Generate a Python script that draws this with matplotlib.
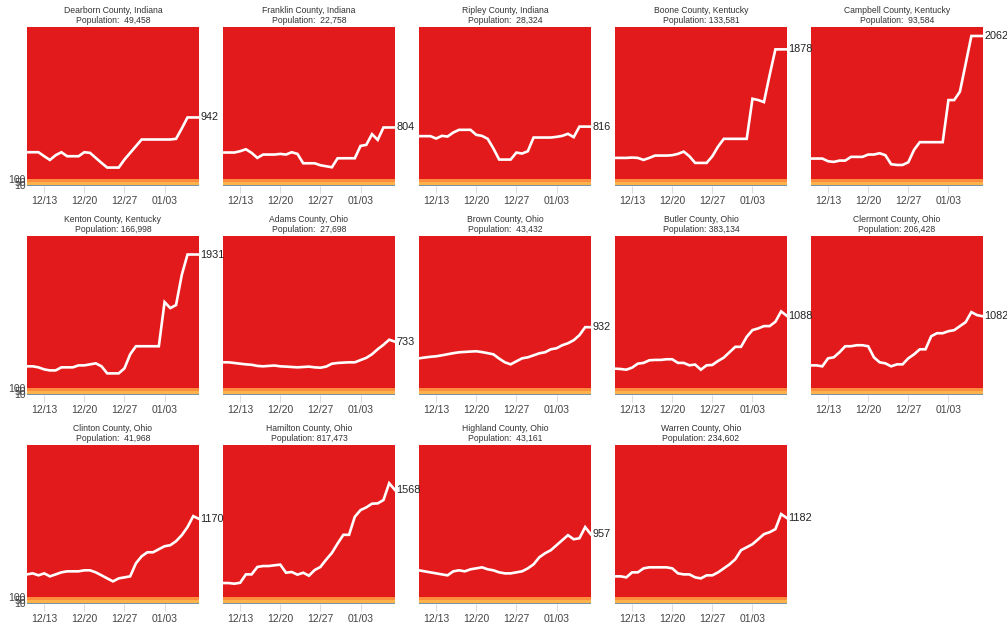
import numpy as np
import pandas as pd
import matplotlib
matplotlib.use('Agg')
import matplotlib.pyplot as plt
import matplotlib.dates as mdates

plt.rcParams['font.family'] = ['Liberation Sans', 'DejaVu Sans']

dates = pd.date_range('2020-12-10', '2021-01-09', freq='D')

counties = ['Dearborn County, Indiana', 'Franklin County, Indiana', 'Ripley County, Indiana',
            'Boone County, Kentucky', 'Campbell County, Kentucky', 'Kenton County, Kentucky',
            'Adams County, Ohio', 'Brown County, Ohio', 'Butler County, Ohio',
            'Clermont County, Ohio', 'Clinton County, Ohio', 'Hamilton County, Ohio',
            'Highland County, Ohio', 'Warren County, Ohio']

population = [49458, 22758, 28324, 133581, 93584, 166998, 27698, 43432,
              383134, 206428, 41968, 817473, 43161, 234602]

# cases per 100k, 7-day window
dearborn = [464, 464, 464, 409, 358, 423, 464, 409, 409, 409, 464, 455, 386, 317, 253, 253,
            253, 363, 455, 547, 639, 639, 639, 639, 639, 639, 648, 790, 942, 942, 942]
franklin = [460, 460, 460, 478, 505, 455, 386, 432, 432, 432, 441, 432, 464, 441, 312, 312,
            312, 285, 271, 257, 381, 381, 381, 381, 551, 565, 712, 634, 804, 804, 804]
ripley = [685, 685, 685, 652, 689, 680, 735, 772, 772, 772, 703, 689, 648, 515, 363, 363,
          363, 459, 446, 478, 666, 666, 666, 666, 675, 689, 717, 671, 816, 816, 816]
boone = [386, 386, 386, 391, 386, 358, 386, 418, 418, 418, 423, 441, 473, 409, 317, 317,
         317, 409, 542, 648, 648, 648, 648, 648, 1199, 1181, 1153, 1526, 1878, 1878, 1878]
campbell = [377, 377, 377, 340, 331, 349, 349, 400, 400, 400, 432, 432, 450, 423, 299, 289,
            289, 326, 496, 602, 602, 602, 602, 602, 1181, 1181, 1296, 1677, 2062, 2062, 2062]
kenton = [394, 394, 380, 352, 338, 338, 380, 380, 380, 407, 407, 421, 435, 394, 297, 297,
          297, 366, 559, 670, 670, 670, 670, 670, 1277, 1195, 1236, 1650, 1931, 1931, 1931]
adams = [449, 449, 440, 430, 421, 415, 400, 394, 400, 405, 394, 390, 385, 380, 385, 390,
         380, 375, 390, 430, 440, 445, 449, 449, 480, 510, 560, 630, 690, 760, 733]
brown = [504, 515, 525, 532, 545, 560, 575, 587, 592, 597, 601, 590, 575, 559, 500, 449,
         421, 463, 504, 518, 545, 573, 587, 628, 642, 684, 711, 753, 822, 932, 932]
butler = [362, 357, 348, 376, 431, 441, 477, 482, 482, 491, 491, 441, 441, 408, 418, 348,
          408, 413, 468, 514, 588, 662, 662, 800, 892, 915, 947, 947, 1007, 1149, 1088]
clermont = [407, 407, 394, 504, 518, 587, 670, 670, 684, 684, 670, 518, 449, 435, 394, 421,
            421, 504, 559, 628, 628, 808, 849, 849, 877, 891, 946, 1001, 1139, 1098, 1082]
clinton = [407, 421, 394, 421, 380, 407, 435, 449, 449, 449, 463, 463, 435, 394, 352, 311,
           352, 366, 380, 559, 656, 711, 711, 753, 794, 808, 863, 946, 1057, 1208, 1170]
hamilton = [288, 288, 279, 292, 407, 407, 509, 522, 522, 532, 541, 430, 440, 403, 430, 389,
            467, 509, 610, 702, 831, 951, 951, 1199, 1291, 1328, 1379, 1383, 1429, 1660, 1568]
highland = [463, 449, 435, 421, 407, 394, 449, 463, 449, 477, 490, 504, 477, 463, 435, 421,
            421, 435, 449, 490, 545, 642, 697, 739, 808, 877, 946, 890, 904, 1057, 957]
warren = [380, 380, 366, 435, 435, 490, 504, 504, 504, 504, 490, 421, 407, 407, 366, 352,
          394, 394, 435, 490, 545, 615, 739, 780, 822, 890, 960, 987, 1029, 1236, 1182]

series = [dearborn, franklin, ripley, boone, campbell, kenton, adams, brown,
          butler, clermont, clinton, hamilton, highland, warren]

bands = [(0, 10, '#FED976'), (10, 50, '#FEB24C'), (50, 100, '#FD8D3C')]
ymax = max(max(s) for s in series) * 1.06

fig, axes = plt.subplots(3, 5, sharey=True, figsize=(10.07, 6.23), dpi=100)
plt.subplots_adjust(left=0.0268, right=0.976, top=0.9567, bottom=0.0305,
                    wspace=0.1395, hspace=0.3145)

for i, ax in enumerate(axes.flat):
    if i >= len(series):
        ax.axis('off')
        continue
    # earlier panels on top so the end labels are not hidden by the next panel
    ax.set_zorder(30 - i)
    vals = series[i]
    ax.set_facecolor('#E31A1C')
    for lo, hi, c in bands:
        ax.axhspan(lo, hi, color=c, lw=0)
    ax.axhline(0, color='#5b84ad', lw=1.2)
    ax.plot(dates, vals, color='white', lw=1.9, solid_joinstyle='miter')
    ax.annotate(str(vals[-1]), (dates[-1], vals[-1]), xytext=(1, 0),
                textcoords='offset points', ha='left', va='center',
                fontsize=7.8, color='#222222', annotation_clip=False)
    ax.set_title(f"{counties[i]}\nPopulation: {population[i]:>7,}",
                 fontsize=6.2, color='#333333', pad=3, linespacing=1.1)
    ax.set_xlim(dates[0], dates[-1])
    ax.set_ylim(0, ymax)
    ax.set_yticks([10, 50, 100])
    ax.xaxis.set_major_locator(mdates.WeekdayLocator(byweekday=mdates.SU))
    ax.xaxis.set_major_formatter(mdates.DateFormatter('%m/%d'))
    ax.tick_params(axis='x', length=5, color='#dddddd', labelsize=7.5,
                   labelcolor='#444444', pad=2)
    ax.tick_params(axis='y', length=0, labelsize=7.5, labelcolor='#444444', pad=1)
    for sp in ax.spines.values():
        sp.set_visible(False)

plt.savefig('out.png', dpi=100)
